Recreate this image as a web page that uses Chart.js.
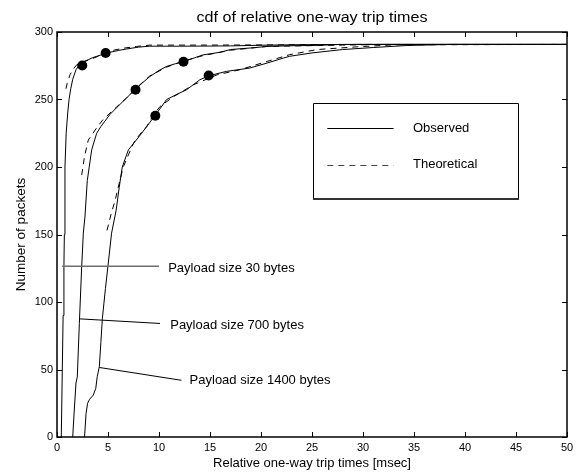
<!DOCTYPE html>
<html>
<head>
<meta charset="utf-8">
<script src="https://cdn.jsdelivr.net/npm/chart.js@4.4.1/dist/chart.umd.min.js"></script>
<style>
  html, body { margin: 0; padding: 0; background: #fff; }
  canvas { display: block; }
</style>
</head>
<body>
<canvas id="cdfChart" width="580" height="472"></canvas>
<script>
// Observed curves (solid)
const obs30X = [0.42, 0.5, 0.6, 0.68, 0.72, 0.78, 0.9, 1.05, 1.18, 1.35, 1.54, 1.86, 2.25, 2.6, 3.07, 3.5, 3.9, 4.5, 5.2, 6.0, 6.8, 8.0, 9.1, 12, 15, 17, 20, 24, 30, 50];
const obs30Y = [0, 40, 90, 127, 150, 200, 225, 240, 250, 258, 265, 272, 276.5, 278, 279.5, 281, 282, 283.5, 285, 286.3, 287.4, 288.8, 289.5, 289.5, 289.6, 289.7, 290.2, 290.6, 290.8, 290.8];

const obs700X = [1.54, 1.67, 1.86, 1.99, 2.19, 2.42, 2.58, 2.74, 2.97, 3.4, 3.89, 4.3, 4.7, 5.2, 5.85, 6.8, 7.7, 8.4, 9.1, 10.0, 10.75, 11.6, 12.4, 14.3, 16.0, 17.0, 19.0, 20.6, 22.8, 25, 27.7, 30, 50];
const obs700Y = [0, 17, 40, 44.5, 84, 126, 151, 163, 190, 212.7, 225, 230, 234, 239, 244, 251, 257.7, 262.5, 267, 271.5, 274.5, 276.5, 278, 283, 285, 287, 288.2, 289.3, 289.8, 290, 290.8, 290.8, 290.8];

const obs1400X = [2.7, 2.85, 3.0, 3.2, 3.56, 3.8, 3.95, 4.15, 4.3, 4.45, 4.75, 5.0, 5.35, 5.8, 6.1, 6.4, 7.0, 8.3, 9.6, 10.75, 11.8, 12.7, 14.0, 14.9, 16.6, 18.9, 20.6, 22.2, 22.8, 25, 28, 31, 34.3, 38.5, 50];
const obs1400Y = [0, 17.6, 25, 28, 31, 36, 45, 52, 70, 88, 110, 127, 151, 168, 185, 200, 212.7, 225, 238, 250, 254, 257.2, 264.6, 267.6, 270.8, 273.3, 277, 280.7, 282, 284.5, 287, 288.5, 290, 290.8, 290.8];

// Theoretical curves (dashed)
const theo30X = [0.88, 1.0, 1.27, 1.6, 1.93, 2.5, 3.2, 4.2, 5.5, 6.5, 7.8, 9.1, 14, 20, 25, 30, 50];
const theo30Y = [258, 262, 268.3, 272.5, 275.7, 277.5, 279.5, 282.5, 286.4, 288, 289.3, 290.3, 290.3, 290.4, 290.6, 290.8, 290.8];

const theo700X = [2.42, 2.7, 3.07, 3.89, 4.5, 5.2, 5.85, 6.8, 7.7, 9.1, 10.75, 12.4, 14.3, 17.0, 20.6, 24, 28, 32, 50];
const theo700Y = [194, 208, 220, 229, 235, 240, 244.5, 251, 258, 267.5, 274, 278.5, 282.5, 286.5, 289.3, 289.8, 290.3, 290.8, 290.8];

const theo1400X = [4.9, 5.3, 5.7, 6.1, 6.5, 7.0, 7.5, 8.1, 8.8, 9.4, 10.1, 11.4, 13.4, 15.7, 17.9, 20.6, 22.8, 25.5, 29.4, 33, 50];
const theo1400Y = [153, 165, 175.4, 188, 200, 209, 217.6, 224, 230, 238, 244.8, 252, 261, 268.3, 272, 278.2, 283.2, 287, 289, 290.5, 290.8];

// Marker dots
const dotX = [2.48, 4.77, 7.7, 12.4, 9.64, 14.87];
const dotY = [275.2, 284.4, 257.2, 278, 237.9, 267.8];

// Axis ticks
const xTicks = [0, 5, 10, 15, 20, 25, 30, 35, 40, 45, 50];
const yTicks = [0, 50, 100, 150, 200, 250, 300];

// Labels
const titleText = 'cdf of relative one-way trip times';
const xLabel = 'Relative one-way trip times [msec]';
const yLabel = 'Number of packets';
const legendLabels = ['Observed', 'Theoretical'];

// Annotations: text, text anchor, leader line (data units)
const annoText = ['Payload size 30 bytes', 'Payload size 700 bytes', 'Payload size 1400 bytes'];
const annoTextX = [10.9, 11.1, 13.0];
const annoTextY = [125.1, 82.9, 42.1];
const annoLineX0 = [0.5, 2.25, 4.15];
const annoLineY0 = [126.5, 87.5, 51.5];
const annoLineX1 = [10.0, 10.1, 12.2];
const annoLineY1 = [126.5, 84.1, 42.0];
const annoLineColor = ['#6e6e6e', '#000', '#000'];

const FONT = "'Liberation Sans', Arial, sans-serif";
const DASH = [6, 5];

function pts(xs, ys) {
    return xs.map((x, i) => ({ x: x, y: ys[i] }));
}

function lineSet(xs, ys, dashed) {
    return {
        data: pts(xs, ys),
        showLine: true,
        borderColor: '#000',
        borderWidth: 1,
        borderDash: dashed ? DASH : [],
        pointRadius: 0,
        tension: 0,
        fill: false
    };
}

// MATLAB-ish frame, inner ticks, legend box, annotations and titles
const matlabDecor = {
    id: 'matlabDecor',
    afterDatasetsDraw(chart) {
        const ctx = chart.ctx;
        const a = chart.chartArea;
        const xs = chart.scales.x;
        const ys = chart.scales.y;
        ctx.save();

        // annotations
        annoText.forEach((t, i) => {
            ctx.strokeStyle = annoLineColor[i];
            ctx.lineWidth = i === 0 ? 1.5 : 1;
            ctx.beginPath();
            ctx.moveTo(xs.getPixelForValue(annoLineX0[i]), ys.getPixelForValue(annoLineY0[i]));
            ctx.lineTo(xs.getPixelForValue(annoLineX1[i]), ys.getPixelForValue(annoLineY1[i]));
            ctx.stroke();
            ctx.fillStyle = '#000';
            ctx.font = '13px ' + FONT;
            ctx.textAlign = 'left';
            ctx.textBaseline = 'middle';
            ctx.fillText(t, xs.getPixelForValue(annoTextX[i]), ys.getPixelForValue(annoTextY[i]));
        });

        // legend box
        const lx0 = Math.round(xs.getPixelForValue(25.1)) + 0.5;
        const lx1 = Math.round(xs.getPixelForValue(45.2)) + 0.5;
        const ly0 = Math.round(ys.getPixelForValue(247.3)) + 0.5;
        const ly1 = Math.round(ys.getPixelForValue(176.6));
        ctx.fillStyle = '#fff';
        ctx.fillRect(lx0, ly0, lx1 - lx0, ly1 - ly0);
        ctx.strokeStyle = '#000';
        ctx.lineWidth = 1;
        ctx.setLineDash([]);
        ctx.beginPath();
        ctx.moveTo(lx0, ly1);
        ctx.lineTo(lx0, ly0);
        ctx.lineTo(lx1, ly0);
        ctx.lineTo(lx1, ly1);
        ctx.stroke();
        ctx.strokeStyle = '#333';
        ctx.lineWidth = 2;
        ctx.beginPath();
        ctx.moveTo(lx0 - 0.5, ly1);
        ctx.lineTo(lx1 + 0.5, ly1);
        ctx.stroke();

        const rows = [ys.getPixelForValue(228.8), ys.getPixelForValue(201.6)];
        const sx0 = xs.getPixelForValue(26.5), sx1 = xs.getPixelForValue(33.0);
        legendLabels.forEach((lab, i) => {
            const yy = Math.round(rows[i]) + 0.5;
            ctx.strokeStyle = i === 0 ? '#000' : '#444';
            ctx.lineWidth = 1;
            ctx.setLineDash(i === 0 ? [] : DASH);
            ctx.beginPath();
            ctx.moveTo(sx0, yy);
            ctx.lineTo(sx1, yy);
            ctx.stroke();
            ctx.setLineDash([]);
            ctx.fillStyle = '#000';
            ctx.font = '13px ' + FONT;
            ctx.textAlign = 'left';
            ctx.textBaseline = 'middle';
            ctx.fillText(lab, xs.getPixelForValue(34.9), rows[i]);
        });

        // axes box
        ctx.strokeStyle = '#000';
        ctx.lineWidth = 1.5;
        ctx.strokeRect(a.left, a.top, a.right - a.left, a.bottom - a.top);

        // inner ticks on all four sides
        ctx.lineWidth = 1;
        const TL = 5;
        ctx.beginPath();
        xTicks.forEach(v => {
            const p = Math.round(xs.getPixelForValue(v)) + 0.5;
            ctx.moveTo(p, a.bottom); ctx.lineTo(p, a.bottom - TL);
            ctx.moveTo(p, a.top); ctx.lineTo(p, a.top + TL);
        });
        yTicks.forEach(v => {
            const p = Math.round(ys.getPixelForValue(v)) + 0.5;
            ctx.moveTo(a.left, p); ctx.lineTo(a.left + TL, p);
            ctx.moveTo(a.right, p); ctx.lineTo(a.right - TL, p);
        });
        ctx.stroke();

        // title and axis labels
        ctx.fillStyle = '#000';
        const cx = (a.left + a.right) / 2;
        ctx.textAlign = 'center';
        ctx.textBaseline = 'alphabetic';

        ctx.save();
        ctx.translate(cx, 22);
        ctx.scale(1.15, 1);
        ctx.font = '14px ' + FONT;
        ctx.fillText(titleText, 0, 0);
        ctx.restore();

        ctx.font = '13px ' + FONT;
        ctx.fillText(xLabel, cx, 467);

        ctx.save();
        ctx.translate(25, (a.top + a.bottom) / 2);
        ctx.rotate(-Math.PI / 2);
        ctx.font = '13.5px ' + FONT;
        ctx.fillText(yLabel, 0, 0);
        ctx.restore();

        ctx.restore();
    }
};

const tickFont = { family: FONT, size: 11 };

new Chart(document.getElementById('cdfChart').getContext('2d'), {
    type: 'scatter',
    data: {
        datasets: [
            lineSet(obs30X, obs30Y, false),
            lineSet(obs700X, obs700Y, false),
            lineSet(obs1400X, obs1400Y, false),
            lineSet(theo30X, theo30Y, true),
            lineSet(theo700X, theo700Y, true),
            lineSet(theo1400X, theo1400Y, true),
            {
                data: pts(dotX, dotY),
                showLine: false,
                pointRadius: 5,
                pointBackgroundColor: '#000',
                pointBorderColor: '#000',
                pointBorderWidth: 0
            }
        ]
    },
    options: {
        responsive: false,
        animation: false,
        layout: { padding: { top: 32, right: 13, left: 0, bottom: 0 } },
        plugins: {
            legend: { display: false },
            title: { display: false },
            tooltip: { enabled: false }
        },
        scales: {
            x: {
                type: 'linear',
                min: 0,
                max: 50,
                afterBuildTicks: s => { s.ticks = xTicks.map(v => ({ value: v })); },
                ticks: { color: '#000', font: tickFont, padding: 4, maxRotation: 0 },
                grid: { display: false, drawTicks: false },
                border: { display: false },
                afterFit: s => { s.height = 35; }
            },
            y: {
                type: 'linear',
                min: 0,
                max: 300,
                afterBuildTicks: s => { s.ticks = yTicks.map(v => ({ value: v })); },
                ticks: { color: '#000', font: tickFont, padding: 4 },
                grid: { display: false, drawTicks: false },
                border: { display: false },
                afterFit: s => { s.width = 57; }
            }
        }
    },
    plugins: [matlabDecor]
});
</script>
</body>
</html>
